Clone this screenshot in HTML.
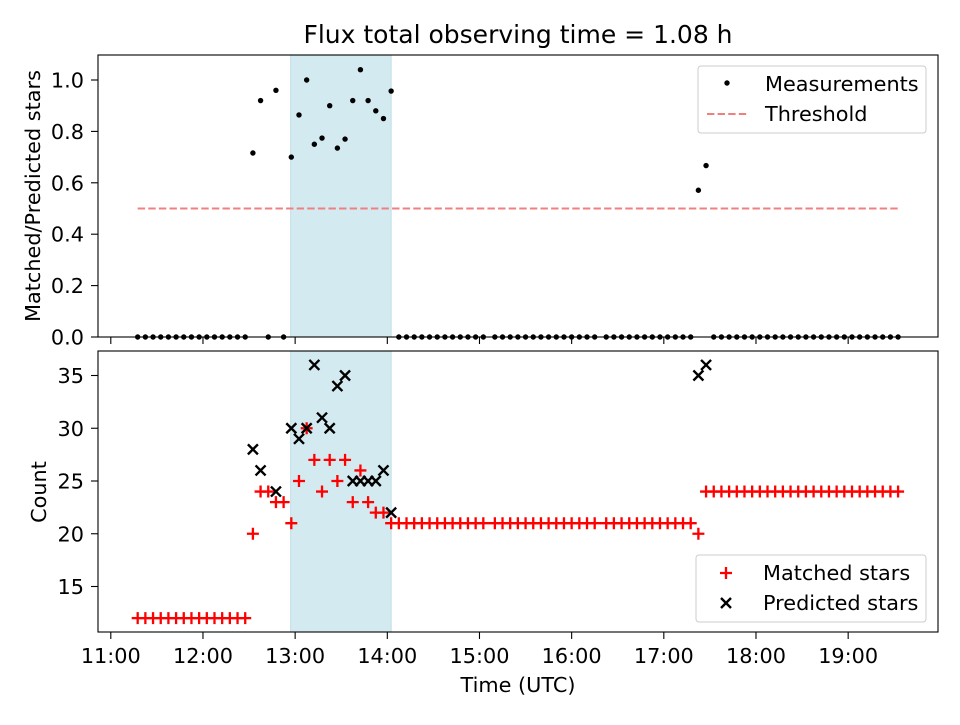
<!DOCTYPE html>
<html><head><meta charset="utf-8"><style>
body{margin:0;background:#fff;}
svg text{font-family:"DejaVu Sans","Liberation Sans",sans-serif;}
</style></head><body>
<svg id="c" width="960" height="720" xmlns="http://www.w3.org/2000/svg"></svg>
<script>
// minutes since 11:00 UTC
const times=[17.5,22.5,27.5,32.5,37.5,42.5,47.5,52.5,57.5,62.5,67.5,72.5,77.5,82.5,87.5,
92.5,97.5,102.5,107.5,112.5,117.5,122.5,127.5,132.5,137.5,142.5,147.5,152.5,157.5,162.5,167.5,172.5,177.5,182.5,
187.5,192.5,197.5,202.5,207.5,212.5,217.5,222.5,227.5,232.5,237.5,242.5,
250,255,260,265,270,275,280,285,290,295,300,305,310,315,
322.5,327.5,332.5,337.5,342.5,347.5,352.5,357.5,362.5,367.5,372.5,377.5,
382.5,387.5,
392.5,397.5,402.5,407.5,412.5,417.5,422.5,427.5,432.5,437.5,442.5,447.5,452.5,457.5,462.5,467.5,472.5,477.5,482.5,487.5,492.5,497.5,502.5,507.5,512.5];
const matched=[12,12,12,12,12,12,12,12,12,12,12,12,12,12,12,
20,24,24,23,23,21,25,30,27,24,27,25,27,23,26,23,22,22,21,
21,21,21,21,21,21,21,21,21,21,21,21,
21,21,21,21,21,21,21,21,21,21,21,21,21,21,
21,21,21,21,21,21,21,21,21,21,21,21,
20,24,
24,24,24,24,24,24,24,24,24,24,24,24,24,24,24,24,24,24,24,24,24,24,24,24,24];
const predicted=[null,null,null,null,null,null,null,null,null,null,null,null,null,null,null,
28,26,null,24,null,30,29,30,36,31,30,34,35,25,25,25,25,26,22,
null,null,null,null,null,null,null,null,null,null,null,null,
null,null,null,null,null,null,null,null,null,null,null,null,null,null,
null,null,null,null,null,null,null,null,null,null,null,null,
35,36,
null,null,null,null,null,null,null,null,null,null,null,null,null,null,null,null,null,null,null,null,null,null,null,null,null];
const ratioVals=[0,0,0,0,0,0,0,0,0,0,0,0,0,0,0,
0.716,0.92,0,0.96,0,0.70,0.864,1.0,0.75,0.774,0.90,0.735,0.77,0.92,1.04,0.92,0.88,0.85,0.957,
0,0,0,0,0,0,0,0,0,0,0,0,
0,0,0,0,0,0,0,0,0,0,0,0,0,0,
0,0,0,0,0,0,0,0,0,0,0,0,
0.571,0.667,
0,0,0,0,0,0,0,0,0,0,0,0,0,0,0,0,0,0,0,0,0,0,0,0,0];
const xTickLabels=["11:00","12:00","13:00","14:00","15:00","16:00","17:00","18:00","19:00"];
const topYTicks=[0,0.2,0.4,0.6,0.8,1.0];
const botYTicks=[15,20,25,30,35];
const threshold=0.5;
const shadeSpan=[117.1,182.5];

const NS="http://www.w3.org/2000/svg";
const svg=document.getElementById('c');
function el(tag,attrs,parent){const e=document.createElementNS(NS,tag);for(const k in attrs)e.setAttribute(k,attrs[k]);(parent||svg).appendChild(e);return e;}
const L=98,R=938,FS=20.8,TS=20.8;
const xS=m=>110.8+92.17*(m/60);
const yT=v=>337-257*v;
const yB=v=>586.5-10.55*(v-15);
const TOP={y0:55,y1:337}, BOT={y0:351,y1:632};

[TOP,BOT].forEach((p,i)=>{
 const r=el('rect',{x:xS(shadeSpan[0]),y:p.y0,width:xS(shadeSpan[1])-xS(shadeSpan[0]),height:p.y1-p.y0,fill:'#d4eaf1',stroke:'#bfdde6','stroke-width':1});
 
 
});

const th=el('line',{x1:xS(times[0]),x2:xS(times[times.length-1]),y1:yT(threshold),y2:yT(threshold),stroke:'#f08080','stroke-width':2,'stroke-dasharray':'7.4,3.2'});



times.forEach((t,i)=>{
 const c=el('circle',{cx:xS(t),cy:yT(ratioVals[i]),r:2.7,fill:'#000'});
 
 
});
times.forEach((t,i)=>{
 const x=xS(t),y=yB(matched[i]);
 const g=el('path',{d:`M${x-6},${y}H${x+6}M${x},${y-6}V${y+6}`,stroke:'#f00','stroke-width':2.3});
 
 
});
times.forEach((t,i)=>{
 if(predicted[i]==null)return;
 const x=xS(t),y=yB(predicted[i]);
 const g=el('path',{d:`M${x-5},${y-5}L${x+5},${y+5}M${x-5},${y+5}L${x+5},${y-5}`,stroke:'#000','stroke-width':2.4});
 
 
});

[TOP,BOT].forEach((p,i)=>{
 const r=el('rect',{x:L,y:p.y0,width:R-L,height:p.y1-p.y0,fill:'none',stroke:'#000','stroke-width':1.1});
 
 
 xTickLabels.forEach((lab,k)=>{
  const x=xS(k*60);
  el('line',{x1:x,x2:x,y1:p.y1,y2:p.y1+7,stroke:'#000','stroke-width':1.1});
  if(i===1){
   const t=el('text',{x:x,y:663,'font-size':TS,'text-anchor':'middle'});
   t.textContent=lab;
   
   
  }
 });
});
topYTicks.forEach(v=>{
 const y=yT(v);
 el('line',{x1:L-7,x2:L,y1:y,y2:y,stroke:'#000','stroke-width':1.1});
 const t=el('text',{x:L-14,y:y+7.5,'font-size':TS,'text-anchor':'end'});
 t.textContent=v.toFixed(1);
 
 
});
botYTicks.forEach(v=>{
 const y=yB(v);
 el('line',{x1:L-7,x2:L,y1:y,y2:y,stroke:'#000','stroke-width':1.1});
 const t=el('text',{x:L-14,y:y+7.5,'font-size':TS,'text-anchor':'end'});
 t.textContent=v;
 
 
});

function txt(s,attrs,name,parent){const t=el('text',attrs,parent);t.textContent=s;return t;}
txt('Flux total observing time = 1.08 h',{x:518,y:43,'font-size':25,'text-anchor':'middle'},'chart-title');
txt('Time (UTC)',{x:518,y:692,'font-size':FS,'text-anchor':'middle'},'x-axis-title');
txt('Matched/Predicted stars',{x:0,y:0,'font-size':FS,'text-anchor':'middle',transform:'translate(40,196) rotate(-90)'},'top-y-axis-title');
txt('Count',{x:0,y:0,'font-size':FS,'text-anchor':'middle',transform:'translate(46,492) rotate(-90)'},'bottom-y-axis-title');

const lg1=el('g',{});


el('rect',{x:698,y:66,width:228,height:67,rx:3,fill:'#fff','fill-opacity':0.8,stroke:'#ccc'},lg1);
el('circle',{cx:727,cy:83,r:2.7,fill:'#000'},lg1);
txt('Measurements',{x:765,y:91,'font-size':FS},'legend-measurements',lg1);
el('line',{x1:707,x2:747,y1:114,y2:114,stroke:'#f08080','stroke-width':2,'stroke-dasharray':'7.4,3.2'},lg1);
txt('Threshold',{x:765,y:121,'font-size':FS},'legend-threshold',lg1);

const lg2=el('g',{});


el('rect',{x:696,y:555,width:230,height:67,rx:3,fill:'#fff','fill-opacity':0.8,stroke:'#ccc'},lg2);
el('path',{d:'M720,573H732M726,567V579',stroke:'#f00','stroke-width':2.3},lg2);
txt('Matched stars',{x:763,y:580,'font-size':FS},'legend-matched-stars',lg2);
el('path',{d:'M721,598L731,608M721,608L731,598',stroke:'#000','stroke-width':2.4},lg2);
txt('Predicted stars',{x:763,y:610,'font-size':FS},'legend-predicted-stars',lg2);
</script>
</body></html>
